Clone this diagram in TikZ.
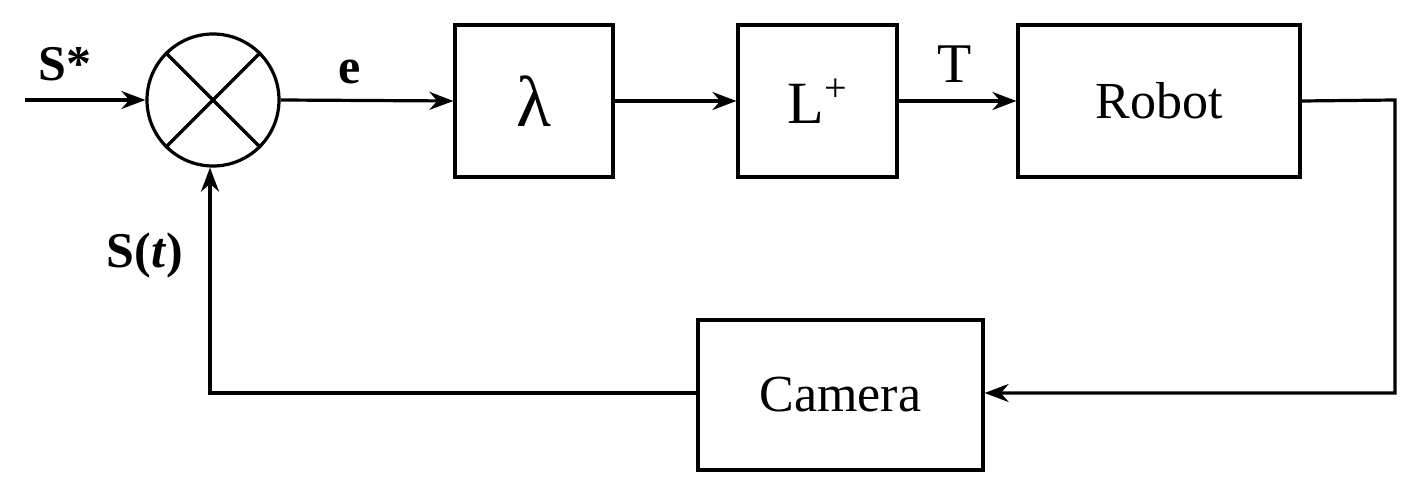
\documentclass[tikz,border=0pt]{standalone}
\usepackage{fontspec}
\setmainfont{Liberation Serif}
\usetikzlibrary{arrows.meta}
\begin{document}
\begin{tikzpicture}[x=1pt,y=-1pt,
  blk/.style={draw,line width=3.2pt,inner sep=0pt},
  ln/.style={line width=3.2pt},
  ar/.style={ln,-{Stealth[length=24pt,width=18pt]}},
  lbl/.style={font=\fontsize{50}{54}\selectfont\bfseries}]
\useasboundingbox (0,0) rectangle (1425,497);
\node[circle,draw,line width=3.2pt,minimum size=132pt,inner sep=0pt] (sum) at (213,100) {};
\draw[ln] (sum.45) -- (sum.225) (sum.135) -- (sum.315);
\node[blk,minimum width=158pt,minimum height=152pt] (lam) at (534,101) {\fontsize{72}{76}\selectfont λ};
\node[blk,minimum width=159pt,minimum height=152pt] (L) at (817.5,101) {\fontsize{60}{64}\selectfont L\raisebox{22pt}{\fontsize{40}{44}\selectfont +}};
\node[blk,minimum width=282pt,minimum height=152pt] (rob) at (1159,101) {\fontsize{52}{56}\selectfont Robot};
\node[blk,minimum width=285pt,minimum height=150pt] (cam) at (840.5,395) {\fontsize{52}{56}\selectfont Camera};
\coordinate (in) at (25,100);
\coordinate (c1) at (1395,100);
\coordinate (c2) at (1395,393);
\coordinate (c3) at (210,393);
\draw[ar] (in) -- (sum.west);
\draw[ar] (sum.east) -- (lam.west);
\draw[ar] (lam.east) -- (L.west);
\draw[ar] (L.east) -- (rob.west);
\draw[ar] (rob.east) -- (c1) -- (c2) -- (cam.east |- c2);
\draw[ar] (cam.west |- c3) -- (c3) -- (sum.south -| c3);
\node[lbl] (ls) at (65,64) {S*};
\node[lbl] (le) at (350,72) {e};
\node[font=\fontsize{56}{60}\selectfont] (lt) at (955,64) {T};
\node[lbl] (lst) at (145,255) {S(\textit{t})};
\end{tikzpicture}
\end{document}
